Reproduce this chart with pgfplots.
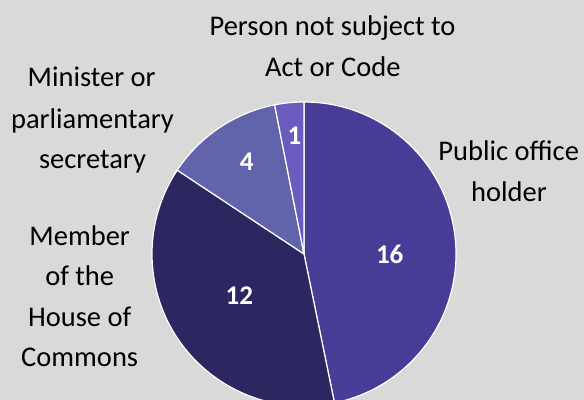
\documentclass[border=0pt]{standalone}
\usepackage{pgfplots}
\pgfplotsset{compat=1.18}
\usepackage{pgfplotstable}
\usepackage{fontspec}
\setmainfont{Carlito}
\definecolor{bg}{HTML}{D9D9D9}
\definecolor{cA}{HTML}{473D97}
\definecolor{cB}{HTML}{2C2760}
\definecolor{cC}{HTML}{6164AB}
\definecolor{cD}{HTML}{6A5CBF}

% val = printed count, share = slice size as drawn, (lx,ly) = label position
\pgfplotstableread{
val share col lx ly
16 15.44 cA 389.7 145.7
12 12.38 cB 239.3 104.3
4  4.16  cC 246.7 238.3
1  1.02  cD 294.5 264.0
}\pietable

\newcommand{\catline}[3]{\node[anchor=base, inner sep=0pt, font=\fontsize{28.5bp}{34bp}\selectfont] at (axis cs:#1,#2) {#3};}

\begin{document}
\begin{tikzpicture}
\useasboundingbox (0,0) rectangle (584bp,400bp);
\fill[bg] (0,0) rectangle (584bp,400bp);
\begin{axis}[
  scale only axis, width=584bp, height=400bp,
  xmin=0, xmax=584, ymin=0, ymax=400,
  at={(0,0)}, anchor=origin,
  hide axis, clip=true,
]
\pgfmathsetmacro\curang{90}
\pgfplotsforeachungrouped \i in {0,...,3}{%
  \pgfplotstablegetelem{\i}{share}\of\pietable \let\slshare\pgfplotsretval
  \pgfplotstablegetelem{\i}{col}\of\pietable \let\slcol\pgfplotsretval
  \pgfmathsetmacro\endang{\curang - \slshare/33*360}%
  \edef\cmd{\noexpand\fill[\slcol, draw=white, line width=1.2bp, line join=round] (axis cs:304,146) -- ++(\curang:152bp) arc[start angle=\curang, end angle=\endang, radius=152bp] -- cycle;}%
  \cmd
  \global\let\curang\endang
}
\pgfplotsforeachungrouped \i in {0,...,3}{%
  \pgfplotstablegetelem{\i}{val}\of\pietable \let\slval\pgfplotsretval
  \pgfplotstablegetelem{\i}{lx}\of\pietable \let\slx\pgfplotsretval
  \pgfplotstablegetelem{\i}{ly}\of\pietable \let\sly\pgfplotsretval
  \edef\cmd{\noexpand\node[text=white, font=\noexpand\bfseries\noexpand\fontsize{27bp}{32bp}\noexpand\selectfont] at (axis cs:\slx,\sly) {\slval};}%
  \cmd
}
\catline{332.5}{365}{Person not subject to}
\catline{332.8}{324}{Act or Code}
\catline{91.7}{313.3}{Minister or}
\catline{92.5}{271.7}{parliamentary}
\catline{92.5}{231.7}{secretary}
\catline{508.7}{239.3}{Public office}
\catline{509}{198.3}{holder}
\catline{79.7}{155}{Member}
\catline{79.7}{115}{of the}
\catline{79.7}{74}{House of}
\catline{79.7}{33.3}{Commons}
\end{axis}
\end{tikzpicture}
\end{document}
